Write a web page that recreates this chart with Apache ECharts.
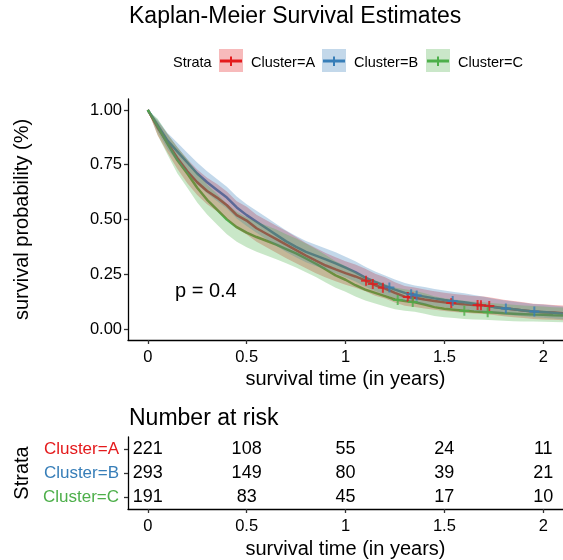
<!DOCTYPE html>
<html lang="en">
<head>
<meta charset="UTF-8">
<title>Kaplan-Meier Survival Estimates</title>
<script src="https://cdn.jsdelivr.net/npm/echarts@6/dist/echarts.min.js"></script>
<style>
    html, body { margin: 0; padding: 0; background: #ffffff; }
    #chart { width: 563px; height: 560px; }
</style>
</head>
<body>
<div id="chart"></div>
<script>
// time grid (years) shared by all curves
var times = [0, 0.05, 0.1, 0.15, 0.2, 0.25, 0.3, 0.35, 0.4, 0.45, 0.5, 0.55, 0.6, 0.65, 0.7, 0.75, 0.8, 0.85, 0.9, 0.95,
    1, 1.05, 1.1, 1.15, 1.2, 1.25, 1.3, 1.35, 1.4, 1.45, 1.5, 1.55, 1.6, 1.65, 1.7, 1.75, 1.8, 1.85, 1.9, 1.95, 2, 2.05, 2.1];

// Cluster=A
var survA = [1.0, .92, .85, .78, .72, .67, .63, .6, .565, .52, .495, .46, .435, .41, .385, .36, .335, .312, .29, .272,
    .255, .24, .222, .2, .185, .165, .148, .143, .135, .128, .122, .117, .113, .11, .108, .102, .095, .09, .085, .08, .077, .075, .072];
var lowerA = [1.0, .885, .805, .73, .665, .612, .57, .538, .502, .458, .432, .398, .373, .348, .323, .3, .277, .255, .235, .218,
    .202, .188, .172, .152, .139, .121, .106, .101, .094, .088, .082, .078, .074, .071, .069, .064, .058, .054, .05, .046, .044, .042, .04];
var upperA = [1.0, .95, .89, .83, .775, .728, .69, .662, .628, .583, .558, .522, .497, .472, .447, .42, .393, .37, .347, .328,
    .31, .295, .275, .252, .236, .214, .196, .19, .181, .173, .166, .16, .155, .151, .148, .142, .134, .128, .122, .116, .113, .11, .107];
var censorA = [1.104, 1.138, 1.189, 1.315, 1.34, 1.535, 1.668, 1.685, 1.727];

// Cluster=B
var survB = [1.0, .93, .86, .81, .76, .71, .67, .635, .60, .555, .52, .49, .46, .43, .40, .375, .352, .335, .318, .30,
    .28, .26, .235, .215, .197, .18, .165, .155, .148, .14, .133, .127, .122, .115, .108, .1, .095, .09, .085, .08, .078, .074, .07];
var lowerB = [1.0, .90, .82, .765, .71, .66, .62, .585, .55, .505, .47, .44, .41, .38, .352, .328, .305, .288, .272, .255,
    .236, .217, .193, .174, .157, .142, .128, .119, .113, .106, .099, .094, .09, .084, .078, .071, .067, .062, .058, .054, .052, .048, .045];
var upperB = [1.0, .955, .895, .85, .805, .76, .72, .685, .65, .605, .57, .54, .51, .48, .45, .425, .402, .385, .368, .35,
    .33, .31, .284, .263, .244, .226, .21, .199, .192, .183, .176, .169, .163, .155, .147, .138, .132, .126, .12, .114, .112, .107, .103];
var censorB = [1.222, 1.332, 1.36, 1.542, 1.811, 1.955];

// Cluster=C
var survC = [1.0, .925, .845, .77, .71, .645, .59, .545, .5, .465, .44, .42, .403, .385, .365, .345, .322, .298, .272, .245,
    .225, .2, .18, .165, .15, .135, .128, .122, .112, .1, .093, .088, .083, .08, .078, .075, .072, .07, .068, .066, .065, .063, .062];
var lowerC = [1.0, .885, .795, .71, .645, .578, .523, .477, .433, .398, .373, .353, .336, .319, .3, .281, .259, .237, .213, .188,
    .17, .148, .13, .117, .103, .09, .084, .079, .07, .06, .054, .05, .046, .043, .042, .04, .038, .036, .035, .034, .033, .032, .031];
var upperC = [1.0, .96, .89, .83, .775, .715, .66, .617, .572, .535, .51, .49, .473, .454, .433, .413, .39, .365, .338, .31,
    .288, .262, .24, .223, .206, .19, .182, .175, .163, .15, .141, .135, .129, .125, .122, .118, .114, .111, .108, .105, .103, .1, .098];
var censorC = [1.264, 1.34, 1.601, 1.719];

// number at risk table
var riskTimes = [0, 0.5, 1, 1.5, 2];
var riskA = [221, 108, 55, 24, 11];
var riskB = [293, 149, 80, 39, 21];
var riskC = [191, 83, 45, 17, 10];

var strata = ['Cluster=A', 'Cluster=B', 'Cluster=C'];
var xTicks = [0, 0.5, 1, 1.5, 2];
var yTicks = [0, 0.25, 0.5, 0.75, 1];

var FONT = '"Liberation Sans", Arial, sans-serif';
var colors = ['#E41A1C', '#377EB8', '#4DAF4A'];
var bandColors = ['#F7BABB', '#C3D8EA', '#CAE7C9'];

var groups = [
    {est: survA, lo: lowerA, hi: upperA, cens: censorA, risk: riskA},
    {est: survB, lo: lowerB, hi: upperB, cens: censorB, risk: riskB},
    {est: survC, lo: lowerC, hi: upperC, cens: censorC, risk: riskC}
];

function pairs(xs, ys) {
    return xs.map(function (x, i) { return [x, ys[i]]; });
}
// read a curve at time t (between grid points)
function curveAt(ys, t) {
    for (var i = 0; i < times.length - 1; i++) {
        if (t >= times[i] && t <= times[i + 1]) {
            var f = (t - times[i]) / (times[i + 1] - times[i]);
            return ys[i] + f * (ys[i + 1] - ys[i]);
        }
    }
    return ys[ys.length - 1];
}

var plus = 'path://M4,0L6,0L6,4L10,4L10,6L6,6L6,10L4,10L4,6L0,6L0,4L4,4Z';

var series = [];
// survival curves
groups.forEach(function (g, k) {
    series.push({
        name: strata[k], type: 'line', data: pairs(times, g.est),
        showSymbol: false, silent: true, z: 2,
        lineStyle: {color: colors[k], width: 2.5}
    });
});
// confidence bands, drawn over the curves
groups.forEach(function (g, k) {
    series.push({
        type: 'custom', silent: true, z: 3,
        data: times.map(function (t, i) { return [t, g.lo[i], g.hi[i]]; }),
        encode: {x: 0, y: [1, 2]},
        renderItem: function (params, api) {
            if (params.dataIndex !== 0) return null;
            var pts = [];
            for (var i = 0; i < times.length; i++) pts.push(api.coord([times[i], g.hi[i]]));
            for (var j = times.length - 1; j >= 0; j--) pts.push(api.coord([times[j], g.lo[j]]));
            return {type: 'polygon', shape: {points: pts}, style: {fill: colors[k], opacity: 0.3}};
        }
    });
});
// censoring marks
groups.forEach(function (g, k) {
    series.push({
        type: 'scatter', symbol: plus, symbolSize: 10, z: 4, silent: true,
        itemStyle: {color: colors[k]},
        data: g.cens.map(function (t) { return [t, curveAt(g.est, t)]; })
    });
});

// risk table numbers
var riskData = [];
groups.forEach(function (g, k) {
    riskTimes.forEach(function (t, i) { riskData.push([t, strata[k], g.risk[i]]); });
});
series.push({
    type: 'custom', xAxisIndex: 1, yAxisIndex: 1, silent: true,
    data: riskData,
    renderItem: function (params, api) {
        var p = api.coord([api.value(0), api.value(1)]);
        return {
            type: 'text', x: p[0], y: p[1],
            style: {text: String(api.value(2)), fontSize: 18, fill: '#000', fontFamily: FONT,
                align: 'center', verticalAlign: 'middle'}
        };
    }
});

var axisText = {color: '#000', fontFamily: FONT};
var axisLine = {show: true, onZero: false, lineStyle: {color: '#000', width: 1.3}};

var myChart = echarts.init(document.getElementById('chart'));
var option = {
    animation: false,
    textStyle: {fontFamily: FONT},
    title: [{
        text: 'Kaplan-Meier Survival Estimates', left: 129, top: 5, padding: 0,
        textStyle: {fontSize: 23, fontWeight: 'normal', color: '#000', fontFamily: FONT}
    }, {
        text: 'Number at risk', left: 129, top: 407, padding: 0,
        textStyle: {fontSize: 23, fontWeight: 'normal', color: '#000', fontFamily: FONT}
    }],
    grid: [
        {left: 128, top: 99, width: 435, height: 241},
        {left: 128, top: 437, width: 435, height: 73}
    ],
    xAxis: [{
        gridIndex: 0, type: 'value', min: -0.1, max: 2.1,
        axisLine: axisLine,
        axisTick: {show: true, customValues: xTicks, length: 4, lineStyle: {color: '#333', width: 1.3}},
        axisLabel: Object.assign({customValues: xTicks, fontSize: 16.5, margin: 9}, axisText),
        splitLine: {show: false},
        name: 'survival time (in years)', nameLocation: 'middle', nameGap: 29,
        nameTextStyle: Object.assign({fontSize: 20}, axisText)
    }, {
        gridIndex: 1, type: 'value', min: -0.1, max: 2.1,
        axisLine: axisLine,
        axisTick: {show: true, customValues: xTicks, length: 4, lineStyle: {color: '#333', width: 1.3}},
        axisLabel: Object.assign({customValues: xTicks, fontSize: 16.5, margin: 9}, axisText),
        splitLine: {show: false},
        name: 'survival time (in years)', nameLocation: 'middle', nameGap: 30,
        nameTextStyle: Object.assign({fontSize: 20}, axisText)
    }],
    yAxis: [{
        gridIndex: 0, type: 'value', min: -0.05, max: 1.05,
        axisLine: axisLine,
        axisTick: {show: true, customValues: yTicks, length: 4, lineStyle: {color: '#333', width: 1.3}},
        axisLabel: Object.assign({customValues: yTicks, fontSize: 16.5, margin: 6,
            formatter: function (v) { return v.toFixed(2); }}, axisText),
        splitLine: {show: false},
        name: 'survival probability (%)', nameLocation: 'middle', nameGap: 96, nameRotate: 90,
        nameTextStyle: Object.assign({fontSize: 20}, axisText)
    }, {
        gridIndex: 1, type: 'category', inverse: true, data: strata,
        axisLine: axisLine,
        axisTick: {show: true, alignWithLabel: true, length: 4, lineStyle: {color: '#333', width: 1.3}},
        axisLabel: {
            fontSize: 17, margin: 9, fontFamily: FONT,
            formatter: function (v) { return '{c' + strata.indexOf(v) + '|' + v + '}'; },
            rich: {
                c0: {color: colors[0], fontSize: 17, fontFamily: FONT},
                c1: {color: colors[1], fontSize: 17, fontFamily: FONT},
                c2: {color: colors[2], fontSize: 17, fontFamily: FONT}
            }
        },
        name: 'Strata', nameLocation: 'middle', nameGap: 89, nameRotate: 90,
        nameTextStyle: Object.assign({fontSize: 20}, axisText)
    }],
    series: series,
    graphic: [
        {type: 'text', left: 175, top: 281, style: {text: 'p = 0.4', fontSize: 20, fill: '#000', fontFamily: FONT}},
        {type: 'text', left: 173, top: 55, style: {text: 'Strata', fontSize: 14.5, fill: '#000', fontFamily: FONT}}
    ]
};

// legend keys
var keyX = [219, 322, 426];
strata.forEach(function (s, k) {
    var x0 = keyX[k];
    option.graphic.push(
        {type: 'rect', shape: {x: x0, y: 49, width: 24, height: 23}, style: {fill: bandColors[k]}},
        {type: 'line', shape: {x1: x0 + 1, y1: 61, x2: x0 + 23, y2: 61}, style: {stroke: colors[k], lineWidth: 3}},
        {type: 'line', shape: {x1: x0 + 12, y1: 56.5, x2: x0 + 12, y2: 66}, style: {stroke: colors[k], lineWidth: 2}},
        {type: 'text', left: x0 + 32, top: 55, style: {text: s, fontSize: 14.5, fill: '#000', fontFamily: FONT}}
    );
});

myChart.setOption(option);
</script>
</body>
</html>
